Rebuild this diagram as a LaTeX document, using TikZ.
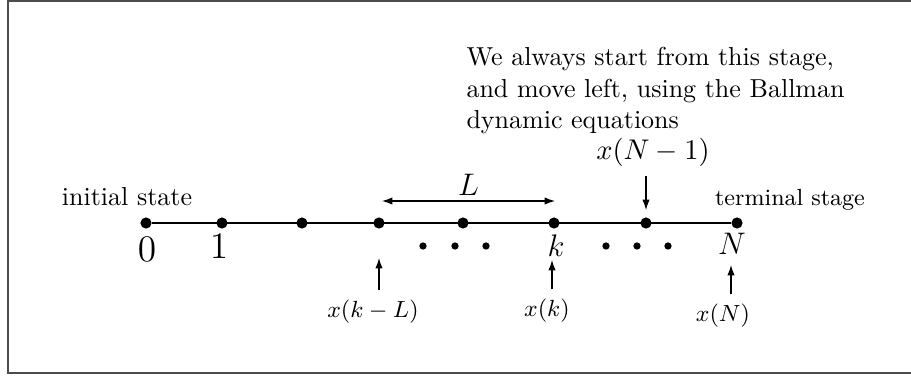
\documentclass[tikz,border=0pt]{standalone}
\usetikzlibrary{arrows.meta}
\begin{document}
\begin{tikzpicture}[
  x=0.3848pt, y=-0.3848pt,
  stage/.style={circle, fill, inner sep=0pt, minimum size=4.3pt},
  gapdot/.style={circle, fill, inner sep=0pt, minimum size=2.8pt},
  arr/.style={-{Latex[length=4pt,width=2.8pt]}},
  lbl/.style={font=\small},
  idx/.style={font=\large, anchor=base},
]
\useasboundingbox (0,0) rectangle (911,375);
\draw[black!70] (911,1) -- (8,1) -- (8,373) -- (911,373);

% stages on the time axis
\foreach \x [count=\i from 0] in {146,222,302,379,463,554,646,737}
  \node[stage] (s\i) at (\x,223) {};
\draw (s0) -- (s7);

\foreach \x [count=\i] in {423,455,486,606,637,668}
  \node[gapdot] (g\i) at (\x,246) {};

\node[idx, font=\Large] (i0) at (147,261) {$0$};
\node[idx, font=\Large] (i1) at (219,258) {$1$};
\node[idx] (ik) at (556,256) {$k$};
\node[idx] (iN) at (732,254) {$N$};

\node[anchor=base] (init) at (127,205) {initial state};
\node[lbl, anchor=base] (term) at (790,205) {terminal stage};

\coordinate (La) at (382,201);
\coordinate (Lb) at (555,201);
\draw[{Latex[length=4pt,width=2.8pt]}-{Latex[length=4pt,width=2.8pt]}]
  (La) -- node[above, inner sep=2pt, font=\large] {$L$} (Lb);

\node[anchor=north west, align=left, inner sep=0pt] (note) at (466,47)
  {We always start from this stage,\\
   and move left, using the Ballman\\
   dynamic equations};

\node[font=\fontsize{11}{13}\selectfont, anchor=south] (xN1) at (653,176) {$x(N-1)$};
\coordinate (tN1) at (646,210);
\draw[arr] (xN1.south -| tN1) -- (tN1);

% pointers from below
\node[lbl, anchor=base] (xkL) at (373,317) {$x(k-L)$};
\node[lbl, anchor=base] (xk)  at (547,316) {$x(k)$};
\node[lbl, anchor=base] (xN)  at (723,321) {$x(N)$};
\coordinate (tkL) at (379,258);
\coordinate (tk)  at (552,260);
\coordinate (tN)  at (731,265);
\draw[arr] (xkL.north -| tkL) -- (tkL);
\draw[arr] (xk.north -| tk) -- (tk);
\draw[arr] (xN.north -| tN) -- (tN);
\end{tikzpicture}
\end{document}
